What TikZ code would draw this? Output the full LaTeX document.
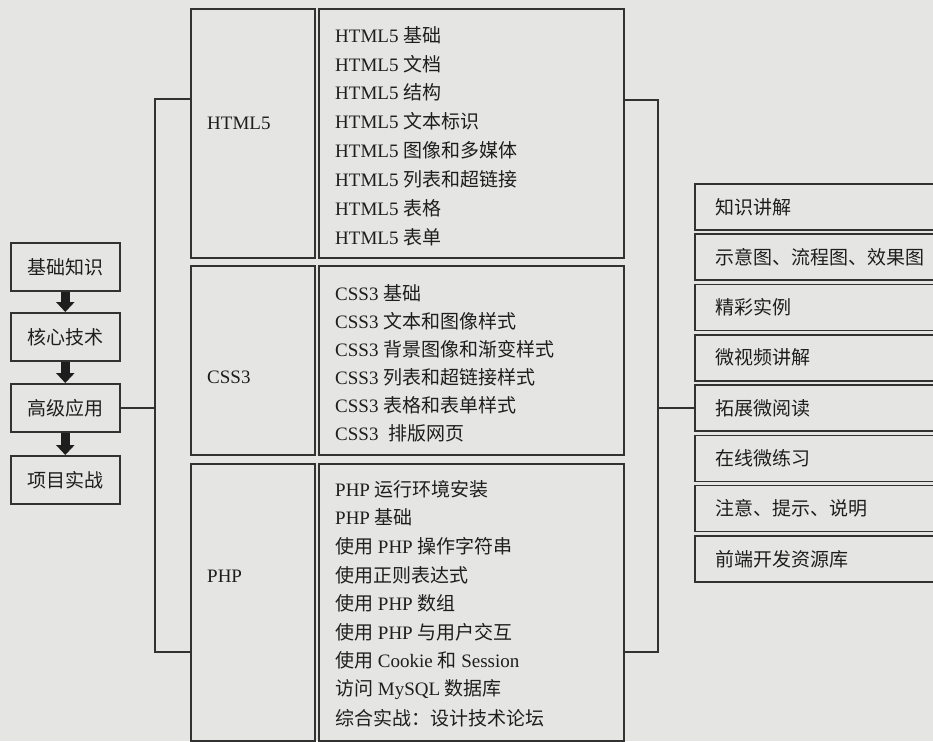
\documentclass[tikz,border=0pt]{standalone}
\usepackage{fontspec}
\setmainfont{Liberation Serif}
\newfontfamily\cjk{Noto Sans CJK SC}
\newcommand\zh[1]{{\cjk #1}}
\usetikzlibrary{arrows.meta,calc}
\definecolor{bgc}{RGB}{229,229,227}
\definecolor{lnc}{RGB}{50,50,50}
\definecolor{txc}{RGB}{30,30,30}
\tikzset{
  box/.style={draw=lnc, line width=1.6pt, inner sep=0pt, anchor=north west, rectangle},
  txt/.style={text=txc, font=\fontsize{19}{23}\selectfont, inner sep=0pt},
  lbox/.style={box, minimum width=109pt, minimum height=48pt, txt},
  rbox/.style={box, minimum width=250pt, minimum height=46pt},
  conn/.style={draw=lnc, line width=1.6pt},
  bigarrow/.style={draw=txc, line width=9pt, -{Triangle[width=18pt,length=10pt]}}
}
\begin{document}
\begin{tikzpicture}[x=1pt,y=-1pt]
\clip (0,0) rectangle (933,741);
\fill[bgc] (0,0) rectangle (933,741);

% left column
\node[lbox] (b1) at (10,242) {\zh{基础知识}};
\node[lbox] (b2) at (10,312) {\zh{核心技术}};
\node[lbox] (b3) at (10,383) {\zh{高级应用}};
\node[lbox] (b4) at (10,455) {\zh{项目实战}};
\draw[bigarrow] (b1.south) -- (b2.north);
\draw[bigarrow] (b2.south) -- (b3.north);
\draw[bigarrow] (b3.south) -- (b4.north);

% label boxes
\node[box, minimum width=124pt, minimum height=249pt] (lh) at (190,8) {};
\node[box, minimum width=124pt, minimum height=189pt] (lc) at (190,265) {};
\node[box, minimum width=124pt, minimum height=277pt] (lp) at (190,463) {};
\node[txt, anchor=west] (tlh) at (207,123) {HTML5};
\node[txt, anchor=west] (tlc) at (207,377) {CSS3};
\node[txt, anchor=west] (tlp) at (207,576) {PHP};

% detail boxes
\node[box, minimum width=305pt, minimum height=249pt] (dh) at (318,8) {};
\node[box, minimum width=305pt, minimum height=189pt] (dc) at (318,265) {};
\node[box, minimum width=305pt, minimum height=277pt] (dp) at (318,463) {};

\foreach \t [count=\i from 0] in {%
  HTML5 \zh{基础}, HTML5 \zh{文档}, HTML5 \zh{结构}, HTML5 \zh{文本标识},
  HTML5 \zh{图像和多媒体}, HTML5 \zh{列表和超链接}, HTML5 \zh{表格}, HTML5 \zh{表单}}
  \node[txt, anchor=west] (h\i) at (335,35+28.85*\i) {\t};

\foreach \t [count=\i from 0] in {%
  CSS3 \zh{基础}, CSS3 \zh{文本和图像样式}, CSS3 \zh{背景图像和渐变样式},
  CSS3 \zh{列表和超链接样式}, CSS3 \zh{表格和表单样式}, CSS3\ \ \zh{排版网页}}
  \node[txt, anchor=west] (c\i) at (335,293+28*\i) {\t};

\foreach \t [count=\i from 0] in {%
  PHP \zh{运行环境安装}, PHP \zh{基础}, \zh{使用} PHP \zh{操作字符串},
  \zh{使用正则表达式}, \zh{使用} PHP \zh{数组}, \zh{使用} PHP \zh{与用户交互},
  \zh{使用} Cookie \zh{和} Session, \zh{访问} MySQL \zh{数据库},
  \zh{综合实战：设计技术论坛}}
  \node[txt, anchor=west] (p\i) at (335,489+28.6*\i) {\t};

% right list
\foreach \t [count=\i from 1] in {%
  知识讲解, 示意图、流程图、效果图, 精彩实例, 微视频讲解,
  拓展微阅读, 在线微练习, 注意、提示、说明, 前端开发资源库}
{
  \node[rbox] (r\i) at (694,183+50.3*\i-50.3) {};
  \node[txt, anchor=west] (rt\i) at ($(r\i.west)+(21,0)$) {\zh{\t}};
}

% left bracket
\coordinate (lt) at (155,99);
\coordinate (lb) at (155,652);
\draw[conn] (lh.west |- lt) -- (lt) -- (lb) -- (lp.west |- lb);
\draw[conn] (b3.east) -- (b3.east -| lt);

% right bracket
\coordinate (rt) at (658,100);
\coordinate (rb) at (658,652);
\draw[conn] (dh.east |- rt) -- (rt) -- (rb) -- (dp.east |- rb);
\draw[conn] (r5.west) -- (r5.west -| rt);
\end{tikzpicture}
\end{document}
